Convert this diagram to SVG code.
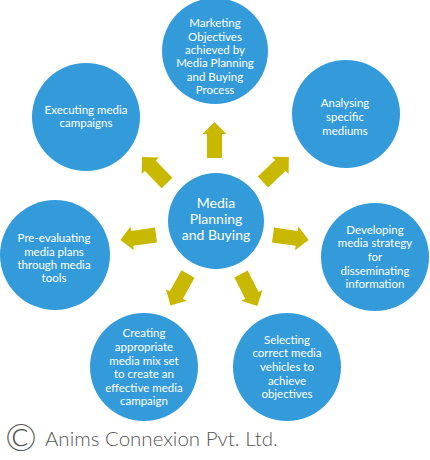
<svg xmlns="http://www.w3.org/2000/svg" width="430" height="460" viewBox="0 0 430 460">
<style>
.c{fill:#349BDB}
.t{font-family:Lato,"Open Sans",sans-serif;font-size:11.5px;fill:#fff;text-anchor:middle}
.tc{font-family:Lato,"Open Sans",sans-serif;font-size:14px;fill:#fff;text-anchor:middle}
.a{fill:#C9B800}
.f{font-family:Lato,"Open Sans",sans-serif;fill:#555;font-weight:300}
</style>
<defs>
<path id="arr" d="M0,-7.5 L24,-7.5 L24,-12 L36,0 L24,12 L24,7.5 L0,7.5 Z"/>
</defs>
<rect width="430" height="460" fill="#fff"/>
<g id="connectors" class="a">
<use href="#arr" transform="translate(214.5,158) rotate(-90)"/>
<use href="#arr" transform="translate(167,183) rotate(-134)"/>
<use href="#arr" transform="translate(263,182) rotate(-44)"/>
<use href="#arr" transform="translate(156,235) rotate(172)"/>
<use href="#arr" transform="translate(273,235) rotate(8)"/>
<use href="#arr" transform="translate(188,274) rotate(119)"/>
<use href="#arr" transform="translate(241,274) rotate(63)"/>
</g>
<g id="center">
<circle class="c" cx="216" cy="221" r="48"/>
<text class="tc" x="216" y="208">Media</text>
<text class="tc" x="216" y="224">Planning</text>
<text class="tc" x="216" y="240">and Buying</text>
</g>
<g id="n-top">
<circle class="c" cx="215" cy="51" r="53"/>
<text class="t" x="215" y="27">Marketing</text>
<text class="t" x="215" y="41">Objectives</text>
<text class="t" x="215" y="54">achieved by</text>
<text class="t" x="215" y="67">Media Planning</text>
<text class="t" x="215" y="81">and Buying</text>
<text class="t" x="215" y="94">Process</text>
</g>
<g id="n-topright">
<circle class="c" cx="346" cy="114" r="54"/>
<text class="t" x="345" y="107">Analysing</text>
<text class="t" x="345" y="121">specific</text>
<text class="t" x="345" y="135">mediums</text>
</g>
<g id="n-right">
<circle class="c" cx="375" cy="257" r="54"/>
<text class="t" x="375" y="234">Developing</text>
<text class="t" x="375" y="247">media strategy</text>
<text class="t" x="375" y="261">for</text>
<text class="t" x="375" y="275">disseminating</text>
<text class="t" x="375" y="288">information</text>
</g>
<g id="n-bottomright">
<circle class="c" cx="287" cy="367" r="54"/>
<text class="t" x="287" y="344">Selecting</text>
<text class="t" x="287" y="357">correct media</text>
<text class="t" x="287" y="371">vehicles to</text>
<text class="t" x="287" y="385">achieve</text>
<text class="t" x="287" y="398">objectives</text>
</g>
<g id="n-bottomleft">
<circle class="c" cx="144" cy="367" r="54"/>
<text class="t" x="144" y="337">Creating</text>
<text class="t" x="144" y="351">appropriate</text>
<text class="t" x="144" y="365">media mix set</text>
<text class="t" x="144" y="378">to create an</text>
<text class="t" x="144" y="392">effective media</text>
<text class="t" x="144" y="405">campaign</text>
</g>
<g id="n-left">
<circle class="c" cx="55" cy="255" r="55"/>
<text class="t" x="54" y="242">Pre-evaluating</text>
<text class="t" x="54" y="256">media plans</text>
<text class="t" x="54" y="269">through media</text>
<text class="t" x="54" y="282">tools</text>
</g>
<g id="n-topleft">
<circle class="c" cx="86" cy="117" r="54"/>
<text class="t" x="86" y="114">Executing media</text>
<text class="t" x="86" y="127">campaigns</text>
</g>
<g id="footer">
<text class="f" x="5" y="451" font-size="38">©</text>
<text class="f" x="45" y="446" font-size="20.5">Anims Connexion Pvt. Ltd.</text>
</g>
</svg>
